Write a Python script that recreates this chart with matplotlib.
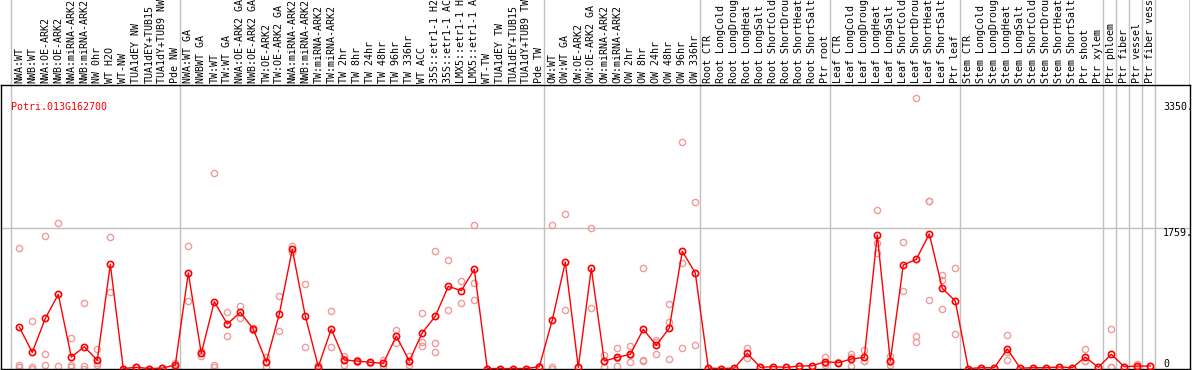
import matplotlib
matplotlib.use("Agg")
import matplotlib.pyplot as plt

# nomes das amostras (colunas)
amostras = [
    "NWA:WT", "NWB:WT", "NWA:OE-ARK2", "NWB:OE-ARK2", "NWA:miRNA-ARK2", "NWB:miRNA-ARK2",
    "NW 0hr", "WT H2O", "WT-NW", "TUA1dEY NW", "TUA1dEY+TUB15", "TUA1dY+TUB9 NW", "Pde NW",
    "NWA:WT GA", "NWBWT GA", "TW:WT", "TW:WT GA", "NWA:OE-ARK2 GA", "NWB:OE-ARK2 GA",
    "TW:OE-ARK2", "TW:OE-ARK2 GA", "NWA:miRNA-ARK2", "NWB:miRNA-ARK2", "TW:miRNA-ARK2",
    "TW:miRNA-ARK2", "TW 2hr", "TW 8hr", "TW 24hr", "TW 48hr", "TW 96hr", "TW 336hr",
    "WT ACC", "35S::etr1-1 H2", "35S::etr1-1 AC", "LMX5::etr1-1 H", "LMX5::etr1-1 A",
    "WT-TW", "TUA1dEY TW", "TUA1dEY+TUB15", "TUA1dY+TUB9 TW", "Pde TW",
    "OW:WT", "OW:WT GA", "OW:OE-ARK2", "OW:OE-ARK2 GA", "OW:miRNA-ARK2", "OW:miRNA-ARK2",
    "OW 2hr", "OW 8hr", "OW 24hr", "OW 48hr", "OW 96hr", "OW 336hr",
    "Root CTR", "Root LongCold", "Root LongDroug", "Root LongHeat", "Root LongSalt",
    "Root ShortCold", "Root ShortDrou", "Root ShortHeat", "Root ShortSalt", "Ptr root",
    "Leaf CTR", "Leaf LongCold", "Leaf LongDroug", "Leaf LongHeat", "Leaf LongSalt",
    "Leaf ShortCold", "Leaf ShortDrou", "Leaf ShortHeat", "Leaf ShortSalt", "Ptr leaf",
    "Stem CTR", "Stem LongCold", "Stem LongDroug", "Stem LongHeat", "Stem LongSalt",
    "Stem ShortCold", "Stem ShortDrou", "Stem ShortHeat", "Stem ShortSalt", "Ptr shoot",
    "Ptr xylem", "Ptr phloem", "Ptr fiber", "Ptr vessel", "Ptr fiber vessel",
]

# media por amostra
medias = [
    521, 203, 630, 932, 144, 274, 103, 1309, 0, 15, 0, 5, 44,
    1200, 191, 839, 559, 706, 496, 82, 685, 1497, 660, 23, 496, 107, 94, 78, 65,
    408, 94, 450, 656, 1032, 978, 1246, 0, 0, 0, 0, 23,
    609, 1338, 15, 1258, 94, 141, 178, 492, 291, 509, 1472, 1200,
    5, 0, 5, 191, 15, 23, 15, 31, 35, 86,
    73, 119, 141, 1677, 94, 1300, 1372, 1690, 1007, 848,
    0, 10, 10, 245, 5, 10, 10, 20, 10, 144, 15,
    178, 23, 31, 31,
]

# replicas por amostra
replicas = [
    [1510, 15, 38], [597, 15, 0], [1664, 178, 40], [1824, 31], [379, 40, 15],
    [823, 31, 0], [241, 65, 40], [1648, 957], [0, 0], [15, 15], [0, 0], [5, 5],
    [65, 15, 50],
    [1539, 848], [220, 160, 190], [2452, 23, 42], [706, 412], [785, 630], [505, 490],
    [141, 90, 15], [907, 471], [1543, 1468], [1061, 270], [40, 10], [722, 270],
    [156, 40, 125], [110, 80], [85, 70], [107, 30], [484, 316], [156, 44, 80],
    [701, 337, 283], [1476, 316, 207], [1363, 735], [1099, 823], [1803, 1074, 860],
    [0], [0], [0], [0], [30, 15],
    [1803, 23, 0], [1937, 735], [15], [1761, 756], [170, 23, 90], [262, 31, 130],
    [283, 78, 170], [1258, 94, 110], [358, 186, 330], [810, 588, 119],
    [2842, 1321, 254], [2088, 295],
    [5], [0], [5], [254, 128], [15], [23], [15], [31], [35], [141, 44, 73],
    [80, 65], [182, 31, 140], [232, 94, 100], [1991, 1581, 1447], [156, 44, 80],
    [1593, 974], [3395, 408, 329], [2104, 2104, 860], [1174, 1112, 744], [1258, 430],
    [0], [10], [10], [421, 207, 110], [5], [10], [10], [20], [10], [245, 94, 94], [15],
    [496, 23, 15], [23], [52, 20], [31],
]

# inicio de cada grupo (linhas cinzas)
divisoes = [0, 13, 41, 53, 63, 73, 84, 85, 86, 87, 88]
marcas_y = [0, 1759, 3350]
gene = "Potri.013G162700"

W, H = 1194, 370
fonte = "DejaVu Sans Mono"
cinza = "#c0c0c0"
rosa = "#f09a9a"

fig = plt.figure(figsize=(W / 100, H / 100), dpi=100)

# eixo x em unidades de coluna: coluna k fica em 19.3 + 13*k pixels
x0 = (1 - 19.3) / 13
x1 = (1190 - 19.3) / 13

# area do grafico
ax = fig.add_axes([1 / W, 1 - 369 / H, 1189 / W, 284 / H])
ax.set_xlim(x0, x1)
ax.set_ylim(-6, 3561)
ax.set_xticks([])
ax.set_yticks([])
for s in ax.spines.values():
    s.set_linewidth(1)
    s.set_color("black")

# cabecalho com os nomes
topo = fig.add_axes([1 / W, 1 - 85 / H, 1189 / W, 85 / H])
topo.set_xlim(x0, x1)
topo.set_ylim(0, 85)
topo.axis("off")

for d in divisoes:
    ax.axvline(d - 0.64, color=cinza, lw=1, zorder=1)
    topo.axvline(d - 0.64, color=cinza, lw=1, zorder=1)
topo.axvline(x1 - 0.01, color="black", lw=1)

ax.axhline(1759, color=cinza, lw=1, zorder=1)

for k, nome in enumerate(amostras):
    topo.text(k, 2, nome, rotation=90, rotation_mode="anchor", ha="left", va="center",
              fontsize=7.2, family=fonte, color="black", clip_on=False)

# replicas
for k, reps in enumerate(replicas):
    ax.plot([k] * len(reps), reps, "o", ms=4.5, mfc="none", mec=rosa, mew=1, zorder=2)

# medias
xs = list(range(len(medias)))
ax.plot(xs, medias, "-", color="red", lw=1, zorder=3)
ax.plot(xs, medias, "o", ms=4.5, mfc="none", mec="red", mew=1.2, zorder=4)

ax.text(10 / 13 + x0, 3350, gene, color="red", fontsize=7.2, family=fonte, va="top", ha="left")

# rotulos do eixo y a direita
xr = (1163 - 19.3) / 13
for m in marcas_y:
    rot = str(m) if m == 0 else str(m) + "."
    ax.text(xr, m, rot, fontsize=7.2, family=fonte, ha="left",
            va="bottom" if m == 0 else "top")

fig.savefig("out.png", dpi=100)
